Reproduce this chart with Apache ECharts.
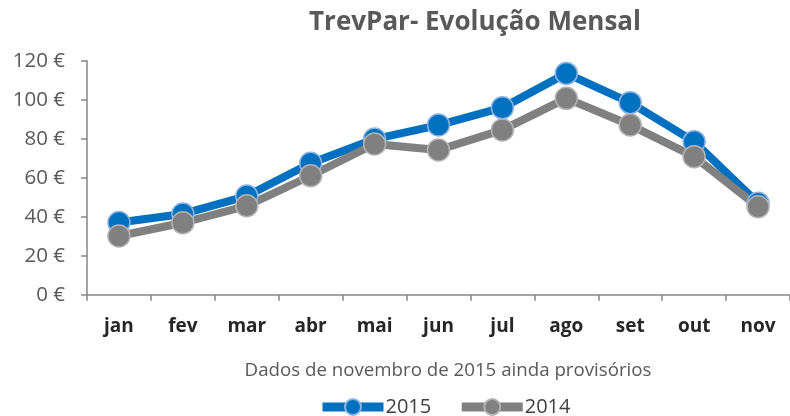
<!DOCTYPE html>
<html>
<head>
<meta charset="utf-8">
<script src="https://cdn.jsdelivr.net/npm/echarts@6/dist/echarts.min.js"></script>
<style>
  html, body { margin: 0; padding: 0; background: #fff; }
  #chart { width: 790px; height: 416px; }
</style>
</head>
<body>
<div id="chart"></div>
<script>
// meses e valores (TrevPar em €)
const months = ['jan', 'fev', 'mar', 'abr', 'mai', 'jun', 'jul', 'ago', 'set', 'out', 'nov'];
const trev2015 = [37, 41.4, 50.6, 67.4, 79.8, 87, 95.9, 113.5, 98.5, 78.5, 46.9];
const trev2014 = [30.1, 36.9, 45.6, 61, 77.3, 74.2, 84.5, 100.7, 87, 70.8, 45.1];
const yTicks = [0, 20, 40, 60, 80, 100, 120];

const font = '"Open Sans", "Liberation Sans", sans-serif';
const myChart = echarts.init(document.getElementById('chart'), null, { renderer: 'canvas' });

function lineSeries(name, data, color, border) {
  return {
    name: name,
    type: 'line',
    data: data,
    symbol: 'circle',
    symbolSize: 22,
    lineStyle: { width: 8, color: color },
    itemStyle: { color: color, borderColor: border, borderWidth: 1.5 },
    emphasis: { disabled: true }
  };
}

const option = {
  animation: false,
  textStyle: { fontFamily: font },
  title: {
    text: 'TrevPar- Evolução Mensal',
    left: 470,
    top: 5,
    textAlign: 'center',
    textStyle: { fontSize: 26, fontWeight: 'bold', color: '#595959', fontFamily: font }
  },
  grid: { left: 87, top: 60.7, width: 707, bottom: 121.3, containLabel: false },
  xAxis: {
    type: 'category',
    data: months,
    boundaryGap: true,
    axisLine: { lineStyle: { color: '#868686', width: 1.5 } },
    axisTick: { show: true, length: 6, lineStyle: { color: '#868686', width: 1.5 } },
    axisLabel: { color: '#262626', fontSize: 19, fontWeight: 'bold', margin: 22, fontFamily: font }
  },
  yAxis: {
    type: 'value',
    min: yTicks[0],
    max: yTicks[yTicks.length - 1],
    interval: 20,
    splitLine: { show: false },
    axisLine: { show: true, lineStyle: { color: '#868686', width: 1.5 } },
    axisTick: { show: true, length: 6, lineStyle: { color: '#868686', width: 1.5 } },
    axisLabel: { color: '#595959', fontSize: 20.5, margin: 22, formatter: v => v + ' €', fontFamily: font }
  },
  legend: {
    data: ['2015', '2014'],
    top: 397,
    left: 318,
    padding: [0, 0, 0, 0],
    itemWidth: 61,
    itemHeight: 20,
    itemGap: 26,
    lineStyle: { width: 9 },
    textStyle: { fontSize: 20, color: '#404040', padding: [0, 0, 0, -3], fontFamily: font }
  },
  graphic: [{
    type: 'text',
    x: 448,
    y: 371,
    style: {
      text: 'Dados de novembro de 2015 ainda provisórios',
      fill: '#595959',
      fontSize: 18.7,
      fontFamily: font,
      align: 'center',
      verticalAlign: 'middle'
    }
  }],
  series: [
    lineSeries('2015', trev2015, '#0070C0', '#8fb4e3'),
    lineSeries('2014', trev2014, '#808080', '#b3b3b3')
  ]
};
myChart.setOption(option);
</script>
</body>
</html>
